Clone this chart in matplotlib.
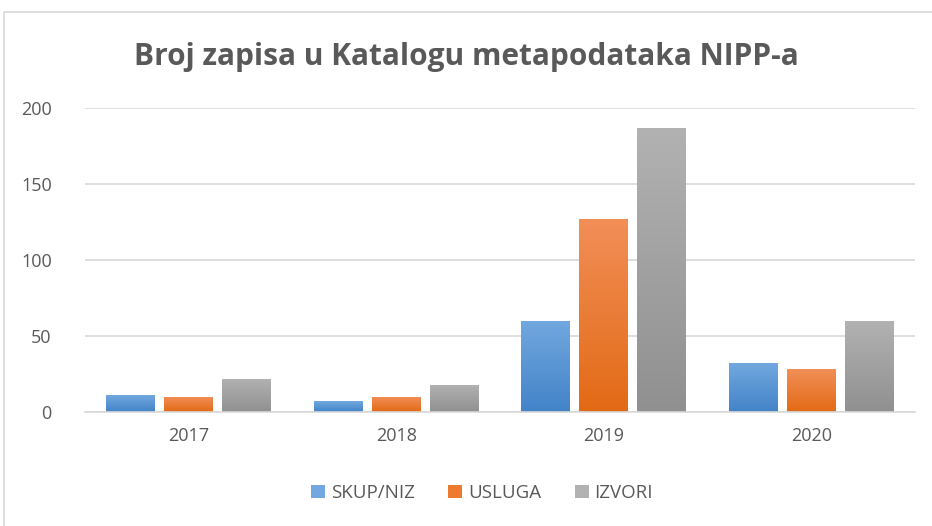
import numpy as np
import matplotlib
matplotlib.use("Agg")
import matplotlib.pyplot as plt
from matplotlib.colors import LinearSegmentedColormap
from matplotlib.patches import Rectangle

years = ["2017", "2018", "2019", "2020"]
skup_niz = [11, 7, 60, 32]
usluga = [10, 10, 127, 28]
izvori = [22, 18, 187, 60]
series_names = ["SKUP/NIZ", "USLUGA", "IZVORI"]

# top / bottom colours of the gradient fill
colors = [("#72a8df", "#4283c8"), ("#f28f58", "#e26a15"), ("#b2b2b2", "#909090")]

plt.rcParams['font.family'] = ['Open Sans', 'DejaVu Sans']
text_col = "#595959"

fig = plt.figure(figsize=(9.32, 5.26), dpi=100)
ax = fig.add_axes([85 / 932, 1 - 412 / 526, 830 / 932, 304 / 526])

# outer chart frame
fig.patches.append(Rectangle((4 / 932, -0.1), 1.1, 1 - 12 / 526 + 0.1,
                             transform=fig.transFigure, fill=False,
                             edgecolor="#d9d9d9", linewidth=1.2))

x = np.arange(len(years))
width = 0.235
offsets = [-0.28, 0, 0.28]
grad = np.linspace(0, 1, 256).reshape(-1, 1)

handles = []
for vals, off, (top, bot), name in zip([skup_niz, usluga, izvori], offsets, colors, series_names):
    bars = ax.bar(x + off, vals, width, color=bot, zorder=2, label=name)
    cmap = LinearSegmentedColormap.from_list(name, [bot, top])
    for b in bars:
        bx, by = b.get_x(), b.get_y()
        im = ax.imshow(grad, cmap=cmap, origin="lower", aspect="auto",
                       extent=[bx, bx + b.get_width(), by, by + b.get_height()],
                       zorder=3)
        im.set_clip_path(b)
    handles.append(Rectangle((0, 0), 1, 1, facecolor=(top if name != "USLUGA" else "#ee7a30")))

ax.set_xlim(-0.5, 3.5)
ax.set_ylim(0, 200)
ax.set_yticks([0, 50, 100, 150, 200])
ax.yaxis.grid(True, color="#d9d9d9", linewidth=1.2, zorder=0)
ax.set_axisbelow(True)
for s in ["top", "right", "left"]:
    ax.spines[s].set_visible(False)
ax.spines["bottom"].set_color("#d9d9d9")
ax.spines["bottom"].set_linewidth(1.2)
ax.spines["bottom"].set_zorder(4)
ax.set_xticks(x)
ax.set_xticklabels(years)
ax.tick_params(axis="both", length=0, labelsize=13, labelcolor=text_col)
ax.tick_params(axis="x", pad=11)
ax.tick_params(axis="y", pad=24)

fig.suptitle("Broj zapisa u Katalogu metapodataka NIPP-a", y=1 - 57 / 526,
             va="center", fontsize=21.5, fontweight="bold", color=text_col)

fig.legend(handles, series_names, loc="center", bbox_to_anchor=(482 / 932, 1 - 493 / 526),
           ncol=3, frameon=False, fontsize=13.5, labelcolor=text_col,
           handlelength=0.75, handleheight=0.75, handletextpad=0.3, columnspacing=1.8)

fig.savefig("out.png", dpi=100)
